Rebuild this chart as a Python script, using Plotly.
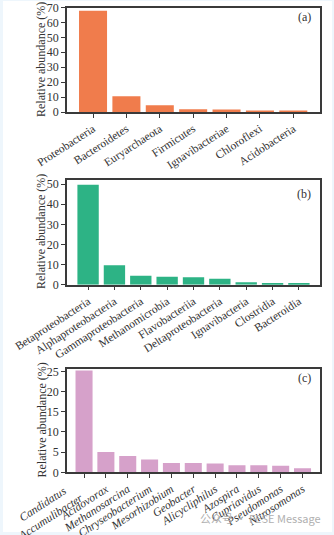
import plotly.graph_objects as go

W, H = 334, 535

# ---- data ----
phylum = ["Proteobacteria", "Bacteroidetes", "Euryarchaeota", "Firmicutes",
          "Ignavibacteriae", "Chloroflexi", "Acidobacteria"]
phylum_vals = [67.8, 10.6, 4.6, 1.8, 1.7, 1.0, 0.9]

cls = ["Betaproteobacteria", "Alphaproteobacteria", "Gammaproteobacteria",
       "Methanomicrobia", "Flavobacteriia", "Deltaproteobacteria",
       "Ignavibacteria", "Clostridia", "Bacteroidia"]
cls_vals = [49.6, 9.6, 4.4, 4.0, 3.7, 3.0, 1.2, 0.8, 0.8]

genus = ["Candidatus Accumulibacter", "Acidovorax", "Methanosarcina",
         "Chryseobacterium", "Mesorhizobium", "Geobacter", "Alicycliphilus",
         "Azospira", "Cupriavidus", "Pseudomonas", "Nitrosomonas"]
genus_vals = [25.2, 5.0, 4.05, 3.15, 2.3, 2.3, 2.15, 1.75, 1.75, 1.6, 1.0]

y_ticks_a = [0, 10, 20, 30, 40, 50, 60, 70]
y_ticks_b = [0, 10, 20, 30, 40, 50]
y_ticks_c = [0, 5, 10, 15, 20, 25]

col_a, col_b, col_c = "#F07C4C", "#2DB385", "#D6A1CA"
SERIF = "Liberation Serif"
AX = "#3a3a3a"
TXT = "#333333"

def px_x(x):
    return x / W

def px_y(y):
    return 1 - y / H

fig = go.Figure()
fig.add_trace(go.Bar(x=phylum, y=phylum_vals, marker=dict(color=col_a, line=dict(width=0)),
                     width=0.84, xaxis="x", yaxis="y"))
fig.add_trace(go.Bar(x=cls, y=cls_vals, marker=dict(color=col_b, line=dict(width=0)),
                     width=0.81, xaxis="x2", yaxis="y2"))
fig.add_trace(go.Bar(x=genus, y=genus_vals, marker=dict(color=col_c, line=dict(width=0)),
                     width=0.78, xaxis="x3", yaxis="y3"))

xdom = [px_x(67), px_x(320)]
panels = [
    ("", [px_y(112), px_y(7.5)], [-0.78, 6.8], [0, 70], y_ticks_a, "normal", -33),
    ("2", [px_y(284.7), px_y(180)], [-0.8, 8.8], [0, 52], y_ticks_b, "normal", -33),
    ("3", [px_y(472.3), px_y(369)], [-0.78, 10.8], [0, 25.6], y_ticks_c, "italic", -33),
]

lay = dict(
    width=W, height=H,
    margin=dict(l=0, r=0, t=0, b=0),
    paper_bgcolor="#EEF6FC",
    plot_bgcolor="white",
    showlegend=False,
    bargap=0.2,
    font=dict(family=SERIF, color=TXT, size=11.5),
)
for suf, ydom, xr, yr, yt, style, ang in panels:
    xa = "xaxis" + suf
    ya = "yaxis" + suf
    lay[xa] = dict(domain=xdom, range=xr, anchor="y" + suf, showline=True, mirror=True,
                   linecolor=AX, linewidth=1.5, ticks="outside", ticklen=4, tickwidth=1.2,
                   tickcolor=AX, tickangle=ang, showgrid=False, zeroline=False,
                   automargin=False,
                   tickfont=dict(family=SERIF, size=11.5, color=TXT, style=style),
                   fixedrange=True)
    lay[ya] = dict(domain=ydom, range=yr, anchor="x" + suf, showline=True, mirror=True,
                   linecolor=AX, linewidth=1.5, ticks="outside", ticklen=4, tickwidth=1.2,
                   tickcolor=AX, tickvals=yt, showgrid=False, zeroline=False,
                   automargin=False,
                   tickfont=dict(family=SERIF, size=12, color=TXT),
                   fixedrange=True)
# the first genus label is written on two lines by an annotation below
lay["xaxis3"]["tickmode"] = "array"
lay["xaxis3"]["tickvals"] = genus
lay["xaxis3"]["ticktext"] = [""] + genus[1:]
fig.update_layout(**lay)

first_words = genus[0].split(" ")
fig.add_annotation(text="<i>" + "<br>".join(first_words) + "</i>",
                   xref="x3", yref="paper", x=genus[0], y=px_y(510),
                   xshift=-38, textangle=-33, showarrow=False, align="center",
                   xanchor="center", yanchor="middle",
                   font=dict(family=SERIF, size=11.5, color=TXT))

# white page area inside the light blue frame
fig.add_shape(type="rect", xref="paper", yref="paper", x0=px_x(3), x1=px_x(332),
              y0=px_y(532), y1=px_y(1), fillcolor="white", line=dict(width=0), layer="below")

# y titles
for yc in [60, 232, 420.5]:
    fig.add_annotation(text="Relative abundance (%)", xref="paper", yref="paper",
                       x=px_x(41), y=px_y(yc), textangle=-90, showarrow=False,
                       font=dict(family=SERIF, size=12, color=TXT),
                       xanchor="center", yanchor="middle")

# panel labels
for lab, yc in [("(a)", 17), ("(b)", 194), ("(c)", 378)]:
    fig.add_annotation(text=lab, xref="paper", yref="paper", x=px_x(313), y=px_y(yc),
                       showarrow=False, xanchor="right", yanchor="middle",
                       font=dict(family=SERIF, size=12, color=TXT))

# watermark
fig.add_annotation(text="公众号 · FESE Message", xref="paper", yref="paper",
                   x=px_x(323), y=px_y(518), showarrow=False, xanchor="right",
                   yanchor="middle",
                   font=dict(family="Noto Sans CJK SC", size=11, color="#b0b0b0"))

fig.write_html("out.html")
